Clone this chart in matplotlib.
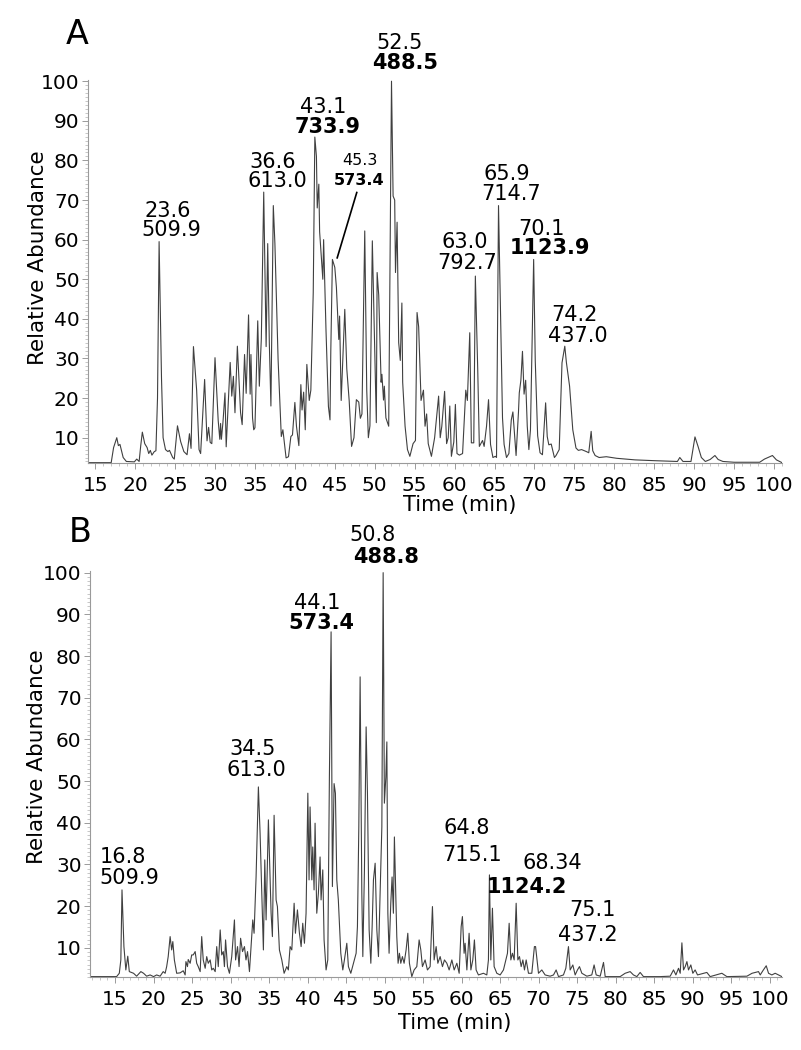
import matplotlib
matplotlib.use('Agg')
import matplotlib.pyplot as plt
from matplotlib.ticker import MultipleLocator

# ---- panel A trace (time in min, relative abundance) ----
time_a = [14.1, 17.0, 17.3, 17.7, 17.9, 18.1, 18.5, 18.9, 19.9, 20.2,
          20.5, 20.7, 20.9, 21.2, 21.5, 21.7, 21.9, 22.1, 22.4, 22.6,
          22.8, 23.0, 23.3, 23.5, 23.8, 24.1, 24.3, 24.7, 24.9, 25.3,
          25.7, 26.1, 26.5, 26.8, 27.0, 27.3, 27.7, 28.0, 28.2, 28.7,
          29.0, 29.2, 29.4, 29.6, 30.0, 30.4, 30.6, 30.7, 30.8, 31.0,
          31.25, 31.4, 31.9, 32.1, 32.3, 32.5, 32.8, 33.2, 33.4, 33.7,
          33.9, 34.2, 34.4, 34.5, 34.7, 34.85, 35.0, 35.35, 35.55, 35.8,
          36.1, 36.4, 36.6, 36.8, 37.0, 37.3, 37.5, 37.9, 38.3, 38.5,
          38.9, 39.2, 39.5, 39.7, 40.0, 40.2, 40.5, 40.75, 40.9, 41.1,
          41.3, 41.5, 41.8, 42.0, 42.3, 42.5, 42.7, 42.8, 43.0, 43.1,
          43.5, 43.6, 43.9, 44.2, 44.4, 44.5, 44.7, 45.0, 45.2, 45.5,
          45.6, 45.8, 46.25, 46.5, 46.8, 47.1, 47.4, 47.7, 48.0, 48.2,
          48.4, 48.75, 49.0, 49.2, 49.4, 49.7, 50.0, 50.2, 50.3, 50.5,
          50.8, 50.9, 51.1, 51.2, 51.4, 51.75, 52.1, 52.3, 52.5, 52.6,
          52.8, 53.0, 53.2, 53.4, 53.5, 53.8, 54.1, 54.4, 54.8, 55.1,
          55.3, 55.5, 55.8, 56.1, 56.3, 56.5, 56.7, 57.1, 57.5, 58.0,
          58.2, 58.4, 58.75, 59.0, 59.2, 59.4, 59.6, 59.9, 60.1, 60.3,
          60.6, 61.0, 61.4, 61.6, 61.9, 62.1, 62.4, 62.6, 62.9, 63.1,
          63.5, 63.7, 64.0, 64.25, 64.5, 64.8, 65.1, 65.25, 65.5, 65.8,
          66.0, 66.2, 66.5, 66.8, 67.1, 67.3, 67.5, 67.7, 68.0, 68.1,
          68.3, 68.5, 68.7, 68.9, 69.1, 69.3, 69.5, 69.9, 70.1, 70.4,
          70.7, 71.0, 71.4, 71.6, 71.8, 72.1, 72.5, 72.7, 73.1, 73.45,
          73.8, 74.0, 74.4, 74.8, 75.2, 75.5, 75.9, 76.5, 76.8, 77.1,
          77.3, 77.6, 78.1, 79.0, 80.3, 81.5, 82.6, 85.0, 87.9, 88.2,
          88.6, 89.6, 90.1, 90.5, 90.9, 91.4, 92.0, 92.6, 93.0, 93.6,
          95.0, 98.2, 98.8, 99.8, 100.3, 101.0]
abund_a = [3.7, 3.7, 7.5, 10.0, 8.0, 8.3, 5.0, 4.0, 3.9, 4.6,
           4.0, 8.0, 11.4, 8.5, 7.5, 6.0, 6.8, 5.6, 6.5, 6.7,
           20, 59.5, 25, 10, 7, 6.5, 6.8, 5.0, 4.6, 13.0,
           9.0, 6.5, 5.7, 11, 7.3, 33, 22, 7, 6, 24.7,
           9.2, 12.6, 8.8, 8.5, 30.2, 14.3, 9.6, 13.6, 9.6, 14,
           21.3, 7.7, 29, 20.5, 25.5, 16.3, 33.1, 16.3, 13.3, 31,
           21.2, 41, 21, 31, 15, 12, 12.5, 39.5, 23, 35,
           72, 33, 59, 34, 18, 68.6, 59, 29.7, 10.3, 12,
           4.9, 5.2, 10.3, 10.7, 18.9, 12.9, 8, 23.4, 17, 21.5,
           12, 28.5, 19.4, 22, 46.6, 85.9, 81, 68, 74, 62,
           50, 60, 37, 17.9, 14.5, 32, 55, 53, 48, 34.8,
           40.7, 19.4, 42.4, 27.4, 19.4, 7.8, 10, 19.6, 19, 14.9,
           16, 62.2, 22, 10, 13, 59.7, 32, 13.8, 51.7, 46,
           24, 26, 19.5, 23, 15, 12.9, 100, 71, 70, 51.7,
           64.4, 34, 29.5, 44, 24, 12.9, 7, 5.3, 8.5, 9.3,
           41.6, 38, 19.4, 22, 12.9, 16, 8.5, 5.3, 10, 20.5,
           10, 12.9, 21.7, 8.5, 10, 18, 5.3, 8.9, 18.4, 6,
           5.6, 6, 22, 19.4, 36.5, 8.7, 8.7, 50.8, 27, 7.8,
           9.3, 7.8, 12.9, 19.6, 8.3, 5, 5.3, 5, 68.6, 37,
           15, 8.3, 5, 6, 14.5, 16.5, 11, 5.5, 16.5, 21.3,
           24.5, 31.8, 21, 24.5, 12.9, 7, 12, 55, 29.5, 10.5,
           6.2, 5.7, 18.8, 10.3, 8.2, 8.4, 5.0, 5.5, 7, 28.9,
           33.1, 29, 23, 12, 7.4, 6.8, 7, 6.5, 6.2, 11.6,
           6.7, 5.5, 5, 5.2, 4.8, 4.6, 4.4, 4.2, 4.0, 5,
           4.0, 4.0, 10.2, 7.7, 5, 4, 4.5, 5.5, 4.5, 4.0,
           3.8, 3.8, 4.6, 5.5, 4.4, 3.7]

# ---- panel B trace ----
time_b = [11.75, 15.2, 15.55, 15.75, 15.9, 16.15, 16.4, 16.65, 16.85, 17.4,
          17.8, 18.35, 18.7, 19.1, 19.55, 20.0, 20.4, 20.85, 21.25, 21.5,
          21.7, 21.9, 22.15, 22.35, 22.5, 22.7, 23.0, 23.45, 23.85, 24.1,
          24.2, 24.4, 24.5, 24.75, 24.95, 25.15, 25.4, 25.6, 25.8, 26.05,
          26.25, 26.45, 26.7, 26.9, 27.1, 27.35, 27.55, 27.75, 28.0, 28.2,
          28.4, 28.65, 28.85, 29.05, 29.2, 29.35, 29.6, 29.85, 30.15, 30.5,
          30.65, 30.9, 31.1, 31.3, 31.55, 31.8, 32.0, 32.2, 32.45, 32.55,
          32.88, 33.05, 33.31, 33.61, 33.83, 34.05, 34.26, 34.44, 34.61, 34.91,
          35.13, 35.26, 35.43, 35.65, 35.91, 36.08, 36.34, 36.65, 36.95, 37.3,
          37.5, 37.73, 37.95, 38.25, 38.42, 38.68, 38.94, 39.16, 39.37, 39.59,
          39.8, 40.03, 40.19, 40.32, 40.55, 40.67, 40.84, 40.97, 41.19, 41.4,
          41.62, 41.75, 41.97, 42.14, 42.4, 42.62, 42.83, 43.05, 43.22, 43.44,
          43.61, 43.79, 43.99, 44.31, 44.57, 44.78, 45.09, 45.3, 45.61, 45.95,
          46.3, 46.47, 46.65, 46.82, 47.04, 47.17, 47.38, 47.6, 47.77, 47.99,
          48.21, 48.38, 48.55, 48.77, 48.99, 49.2, 49.42, 49.64, 49.81, 49.97,
          50.16, 50.29, 50.42, 50.58, 50.8, 50.97, 51.14, 51.27, 51.45, 51.58,
          51.75, 51.92, 52.1, 52.31, 52.53, 52.79, 53.01, 53.22, 53.53, 53.83,
          54.18, 54.48, 54.7, 54.91, 55.26, 55.56, 55.91, 56.21, 56.43, 56.69,
          56.91, 57.21, 57.51, 57.77, 58.08, 58.38, 58.73, 59.03, 59.38, 59.68,
          59.94, 60.1, 60.32, 60.45, 60.68, 60.97, 61.2, 61.45, 61.66, 61.88,
          62.18, 62.83, 63.27, 63.48, 63.61, 63.79, 64.0, 64.22, 64.57, 65.0,
          65.43, 65.74, 65.95, 66.17, 66.39, 66.6, 66.82, 67.08, 67.3, 67.51,
          67.73, 67.95, 68.16, 68.38, 68.68, 69.11, 69.45, 69.6, 69.98, 70.41,
          70.84, 71.49, 71.93, 72.27, 72.58, 73.22, 73.53, 73.87, 74.09, 74.44,
          74.74, 75.04, 75.3, 75.61, 76.26, 76.9, 77.2, 77.47, 77.99, 78.42,
          78.64, 79.72, 80.58, 81.23, 81.88, 82.31, 82.75, 83.18, 83.61, 85.78,
          87.08, 87.51, 87.82, 88.16, 88.38, 88.6, 88.81, 89.03, 89.25, 89.46,
          89.76, 90.02, 90.32, 90.63, 91.84, 92.27, 93.79, 94.44, 97.04, 97.71,
          98.55, 98.77, 99.11, 99.55, 99.85, 100.28, 100.71, 101.58]
abund_b = [3.1, 3.1, 3.9, 7.1, 23.9, 10.3, 4.7, 8.0, 4.3, 3.9,
           3.2, 4.3, 3.9, 3.2, 3.5, 3.1, 3.5, 3.2, 4.3, 3.9,
           5.5, 7.9, 12.7, 9.5, 11.5, 7.1, 3.9, 4.0, 4.5, 3.5,
           6.7, 5.5, 7.2, 6.3, 8.3, 8.3, 9.1, 6.3, 5.5, 4.3,
           12.7, 7.1, 5.1, 7.9, 6.3, 7.1, 4.7, 5.1, 4.3, 10.3,
           5.5, 14.3, 8.3, 9.1, 5.5, 11.9, 5.5, 3.9, 7.9, 16.7,
           7.1, 10.3, 5.5, 12.3, 9.1, 10.3, 7.1, 9.1, 4.3, 7.1,
           16.7, 13.5, 27.0, 48.6, 37.5, 23.1, 9.5, 31.1, 16.7, 40.7,
           26.3, 18.3, 12.7, 41.8, 21.5, 19.9, 9.5, 7.1, 3.9, 5.5,
           4.7, 10.3, 9.5, 20.7, 13.5, 19.1, 13.5, 10.3, 15.9, 11.1,
           18.3, 47.1, 26.3, 43.8, 26.3, 34.2, 23.9, 39.9, 18.3, 23.1,
           31.8, 21.5, 28.7, 11.9, 4.7, 7.1, 51.0, 85.8, 24.7, 49.4,
           47.1, 26.3, 21.5, 8.7, 4.7, 7.1, 11.1, 5.5, 3.9, 6.3,
           8.7, 15.1, 39.0, 75.0, 23.1, 7.9, 28.7, 63.0, 47.1, 14.3,
           6.3, 15.1, 26.3, 30.3, 14.3, 7.9, 23.1, 39.0, 100, 44.7,
           51.0, 59.4, 18.3, 8.7, 20.7, 27.0, 18.3, 36.6, 23.1, 12.7,
           6.3, 8.7, 6.3, 7.9, 6.3, 9.5, 13.5, 6.3, 3.1, 4.7,
           5.5, 11.9, 9.5, 5.5, 7.1, 4.7, 5.5, 19.9, 7.1, 10.3,
           6.3, 7.9, 5.5, 7.1, 6.3, 4.7, 7.1, 4.7, 6.3, 3.9,
           15.1, 17.5, 8.7, 11.1, 4.7, 13.5, 4.7, 7.1, 11.9, 4.7,
           3.5, 3.9, 3.5, 7.1, 27.5, 7.1, 19.5, 5.5, 3.9, 3.5,
           4.7, 7.1, 8.7, 15.9, 7.1, 8.7, 7.1, 20.7, 7.1, 7.9,
           5.5, 7.1, 4.7, 7.1, 3.9, 3.9, 10.3, 10.3, 3.9, 4.7,
           3.5, 3.2, 3.5, 4.7, 3.1, 3.5, 5.1, 10.3, 4.7, 5.9,
           3.5, 4.7, 5.5, 3.9, 3.2, 3.5, 5.9, 3.5, 3.2, 6.5,
           3.1, 3.1, 3.1, 3.9, 4.3, 3.5, 3.1, 4.1, 3.1, 3.1,
           3.2, 4.7, 3.5, 5.1, 3.9, 11.2, 4.7, 5.5, 6.7, 4.7,
           5.9, 3.9, 4.7, 3.5, 4.1, 3.1, 3.9, 3.1, 3.2, 3.9,
           4.3, 3.5, 4.5, 5.7, 3.9, 3.5, 3.9, 3.1]

# ---- peak labels: (time, abundance, text, bold, size) ----
labels_a = [(24.1, 67.3, '23.6', False, 15), (24.5, 62.5, '509.9', False, 15),
            (37.25, 79.7, '36.6', False, 15), (37.75, 74.9, '613.0', False, 15),
            (43.5, 93.5, '43.1', False, 15), (44.1, 88.5, '733.9', True, 15),
            (48.1, 79.9, '45.3', False, 11.5), (48.0, 74.9, '573.4', True, 11.5),
            (53.1, 109.6, '52.5', False, 15), (53.75, 104.6, '488.5', True, 15),
            (66.6, 76.6, '65.9', False, 15), (67.1, 71.6, '714.7', False, 15),
            (61.25, 59.5, '63.0', False, 15), (61.6, 54.2, '792.7', False, 15),
            (70.9, 62.8, '70.1', False, 15), (72.0, 57.8, '1123.9', True, 15),
            (75.0, 40.9, '74.2', False, 15), (75.4, 35.8, '437.0', False, 15)]
labels_b = [(48.4, 109.0, '50.8', False, 15), (50.2, 103.7, '488.8', True, 15),
            (41.2, 92.7, '44.1', False, 15), (41.75, 87.9, '573.4', True, 15),
            (32.8, 57.7, '34.5', False, 15), (33.4, 52.6, '613.0', False, 15),
            (16.0, 31.8, '16.8', False, 15), (16.8, 26.7, '509.9', False, 15),
            (60.7, 38.7, '64.8', False, 15), (61.4, 32.3, '715.1', False, 15),
            (71.75, 30.3, '68.34', False, 15), (68.5, 24.6, '1124.2', True, 15),
            (77.0, 19.1, '75.1', False, 15), (76.4, 13.1, '437.2', False, 15)]


def style_axis(ax, xlim, ylim):
    ax.set_xlim(*xlim)
    ax.set_ylim(*ylim)
    for side in ['top', 'right']:
        ax.spines[side].set_visible(False)
    for side in ['left', 'bottom']:
        ax.spines[side].set_color('#9a9a9a')
        ax.spines[side].set_linewidth(0.8)
    ax.xaxis.set_major_locator(MultipleLocator(5))
    ax.xaxis.set_minor_locator(MultipleLocator(1))
    ax.yaxis.set_major_locator(MultipleLocator(10))
    ax.yaxis.set_minor_locator(MultipleLocator(1))
    ax.set_yticks(range(10, 101, 10))
    ax.tick_params(axis='both', which='major', length=4, width=0.7,
                   color='#9a9a9a', labelsize=14.5)
    ax.tick_params(axis='both', which='minor', length=2.5, width=0.5,
                   color='#b0b0b0')
    ax.tick_params(axis='x', which='major', pad=5)
    ax.tick_params(axis='y', which='major', pad=2)


def draw_labels(ax, labels):
    for t, v, txt, bold, size in labels:
        ax.text(t, v, txt, ha='center', va='center', fontsize=size,
                fontweight='bold' if bold else 'normal', clip_on=False)


fig = plt.figure(figsize=(8.01, 10.5), dpi=100)

ax_a = fig.add_axes([0.1099, 0.559, 0.8664, 0.3648])
ax_a.plot(time_a, abund_a, color='#404040', linewidth=0.8)
style_axis(ax_a, (14.1, 101.0), (3.6, 100.3))
draw_labels(ax_a, labels_a)
ax_a.plot([47.75, 45.3], [71.9, 55.4], color='black', linewidth=1.2)

ax_b = fig.add_axes([0.1124, 0.0695, 0.8639, 0.3867])
ax_b.plot(time_b, abund_b, color='#404040', linewidth=0.8)
style_axis(ax_b, (11.75, 101.6), (3.0, 100.4))
draw_labels(ax_b, labels_b)

fig.text(77 / 801, 1 - 35 / 1050, 'A', fontsize=24, ha='center', va='center')
fig.text(80 / 801, 1 - 533 / 1050, 'B', fontsize=24, ha='center', va='center')
fig.text(460 / 801, 1 - 505 / 1050, 'Time (min)', fontsize=15, ha='center', va='center')
fig.text(455 / 801, 1 - 1023 / 1050, 'Time (min)', fontsize=15, ha='center', va='center')
fig.text(38 / 801, 1 - 258 / 1050, 'Relative Abundance', fontsize=15.5,
         rotation=90, ha='center', va='center')
fig.text(37 / 801, 1 - 757 / 1050, 'Relative Abundance', fontsize=15.5,
         rotation=90, ha='center', va='center')

fig.savefig('out.png', dpi=100)
